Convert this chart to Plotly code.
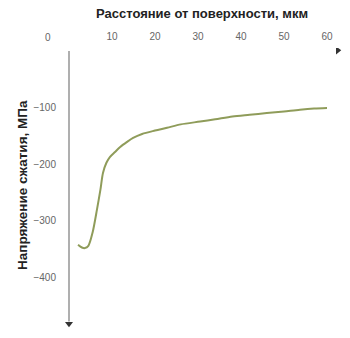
import plotly.graph_objects as go

# Data
depth_um = [2.1, 3.0, 3.7, 4.5, 5.5, 6.5, 7.3, 7.9, 8.7, 9.5, 10.7, 11.9, 13.5, 14.9,
            17, 20, 22.8, 26, 30.5, 34, 38, 42, 46, 50, 53.7, 57, 60]
stress_mpa = [-342, -347, -348, -344, -320, -280, -245, -215, -197, -187, -178, -169,
              -160, -153, -146, -140, -135, -129, -124, -120, -115, -112, -109, -106,
              -103, -101, -100]
x_ticks = [10, 20, 30, 40, 50, 60]
y_ticks = [-100, -200, -300, -400]
x_title = "Расстояние от поверхности, мкм"
y_title = "Напряжение сжатия, МПа"

FONT = "Liberation Sans, Arial, sans-serif"
AXIS_C = "#7a7a7a"
TICK_C = "#666"

fig = go.Figure()
fig.add_trace(go.Scatter(x=depth_um, y=stress_mpa, mode="lines",
                         line=dict(color="#8f9c5a", width=2, shape="spline", smoothing=0.8),
                         hoverinfo="skip", showlegend=False))
# axis arrowheads
fig.add_trace(go.Scatter(x=[0], y=[-482], mode="markers",
                         marker=dict(symbol="triangle-down", size=7, color="#333"),
                         showlegend=False, hoverinfo="skip"))
fig.add_trace(go.Scatter(x=[62.5], y=[2], mode="markers",
                         marker=dict(symbol="triangle-right", size=7, color="#333"),
                         showlegend=False, hoverinfo="skip"))
fig.add_shape(type="line", x0=0, x1=0, y0=1, y1=-478, xref="x", yref="y",
              line=dict(color=AXIS_C, width=1.2))

fig.update_layout(
    width=350, height=338,
    margin=dict(l=60, r=6, t=48, b=8),
    paper_bgcolor="white", plot_bgcolor="white",
    font=dict(family=FONT, size=10, color=TICK_C),
    xaxis=dict(range=[-2.093, 63.95], side="top", tickvals=x_ticks,
               showgrid=False, zeroline=False, showline=False, ticks="",
               tickfont=dict(size=10, color=TICK_C), ticklabelstandoff=5),
    yaxis=dict(range=[-493, 6.2], tickvals=y_ticks, showgrid=False, zeroline=False,
               showline=False, ticks="", tickfont=dict(size=10, color=TICK_C),
               ticklabelstandoff=3),
    annotations=[
        dict(text="0", x=(48 - 60) / 284, xref="paper", y=(330 - 37) / 282, yref="paper",
             xanchor="center", yanchor="middle",
             showarrow=False, font=dict(size=10, color=TICK_C)),
        dict(text="<b>" + x_title + "</b>", x=(202 - 60) / 284, xref="paper",
             y=(330 - 13) / 282, yref="paper", showarrow=False,
             xanchor="center", yanchor="middle",
             font=dict(size=13, color="#222")),
        dict(text="<b>" + y_title + "</b>", x=(22 - 60) / 284, xref="paper",
             y=(330 - 185) / 282, yref="paper", showarrow=False, textangle=-90,
             xanchor="center", yanchor="middle",
             font=dict(size=13.5, color="#222")),
    ],
)
fig.write_html("out.html")
